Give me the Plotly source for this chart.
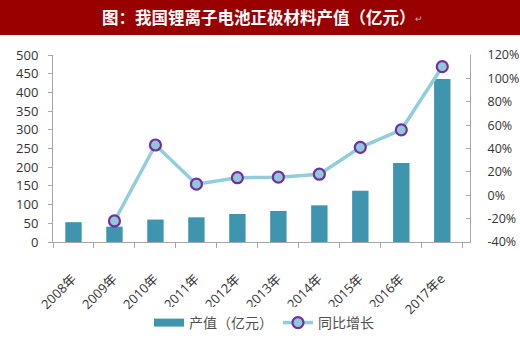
import plotly.graph_objects as go

categories = ["2008年", "2009年", "2010年", "2011年", "2012年", "2013年", "2014年", "2015年", "2016年", "2017年e"]
output_values = [53, 41, 60, 66, 75, 83, 98, 137, 211, 436]
growth_years = ["2009年", "2010年", "2011年", "2012年", "2013年", "2014年", "2015年", "2016年", "2017年e"]
growth_pct = [-22, 43, 9.5, 15, 15.5, 18, 41, 56, 110]
left_ticks = [0, 50, 100, 150, 200, 250, 300, 350, 400, 450, 500]
right_ticks = [-40, -20, 0, 20, 40, 60, 80, 100, 120]

title_text = "图：我国锂离子电池正极材料产值（亿元）"

CJK = "Noto Sans CJK SC, Open Sans, sans-serif"
LAT = "Open Sans, Noto Sans CJK SC, sans-serif"

BAR_COLOR = "#3F95AD"

fig = go.Figure()
fig.add_trace(go.Bar(
    x=categories, y=output_values, name="产值（亿元）",
    marker=dict(color=BAR_COLOR, line=dict(width=0)),
    yaxis="y", showlegend=False,
))
# legend proxy for the bar series (wide rectangular swatch)
fig.add_trace(go.Scatter(
    x=[None], y=[None], name="产值（亿元）", mode="lines",
    line=dict(color=BAR_COLOR, width=8), yaxis="y", showlegend=True,
))
fig.add_trace(go.Scatter(
    x=growth_years, y=growth_pct, name="同比增长", mode="lines+markers",
    line=dict(color="#92CDDC", width=3.5),
    marker=dict(size=11, color="#93C6D6", line=dict(color="#7030A0", width=2.2)),
    yaxis="y2",
))

W, H = 520, 355
ml, mr, mt, mb = 53, 50, 55, 113
pw, ph = W - ml - mr, H - mt - mb

def px_x(p):
    return (p - ml) / pw

def px_y(p):
    return (H - mb - p) / ph

fig.add_shape(type="rect", xref="paper", yref="paper",
              x0=px_x(0), x1=px_x(W), y0=px_y(35), y1=px_y(0),
              fillcolor="#990000", line=dict(width=0), layer="below")
fig.add_annotation(xref="paper", yref="paper", x=px_x(259), y=px_y(17),
                   text="<b>" + title_text + "</b>", showarrow=False,
                   font=dict(family=CJK, size=16.5, color="white"),
                   xanchor="center", yanchor="middle")
fig.add_annotation(xref="paper", yref="paper", x=px_x(419), y=px_y(19),
                   text="↵", showarrow=False,
                   font=dict(family=CJK, size=9, color="#B0B0B0"),
                   xanchor="center", yanchor="middle")

axis_color = "#A6A6A6"
fig.update_layout(
    width=W, height=H,
    margin=dict(l=ml, r=mr, t=mt, b=mb, pad=0, autoexpand=False),
    paper_bgcolor="white", plot_bgcolor="white",
    bargap=0.6,
    showlegend=True,
    legend=dict(orientation="h", x=px_x(264), xanchor="center", y=px_y(323), yanchor="middle",
                font=dict(family=CJK, size=14, color="#505050"),
                itemwidth=30, tracegroupgap=0),
    xaxis=dict(type="category", tickson="boundaries", ticks="outside", ticklen=5,
               tickcolor=axis_color, showline=True, linecolor=axis_color, linewidth=1,
               showgrid=False, tickangle=-45, ticklabelstandoff=23, ticklabelshift=-1,
               automargin=False,
               tickfont=dict(family=LAT, size=13, color="#333333")),
    yaxis=dict(range=[0, 500], tickvals=left_ticks, ticks="outside", ticklen=4,
               tickcolor=axis_color, showline=True, linecolor=axis_color, linewidth=1,
               showgrid=False, zeroline=False, ticklabelstandoff=7, automargin=False,
               tickfont=dict(family=LAT, size=13, color="#333333")),
    yaxis2=dict(range=[-40, 120], tickvals=right_ticks,
                ticktext=[f"{v}%" for v in right_ticks],
                overlaying="y", side="right", ticks="inside", ticklen=4,
                tickcolor=axis_color, showline=True, linecolor=axis_color, linewidth=1,
                showgrid=False, zeroline=False, ticklabelstandoff=14, automargin=False,
                tickfont=dict(family=LAT, size=12.5, color="#333333")),
)

fig.write_html("out.html",
               config={"displayModeBar": False},
               post_script="document.body.style.margin='0px';document.body.style.padding='0px';")
